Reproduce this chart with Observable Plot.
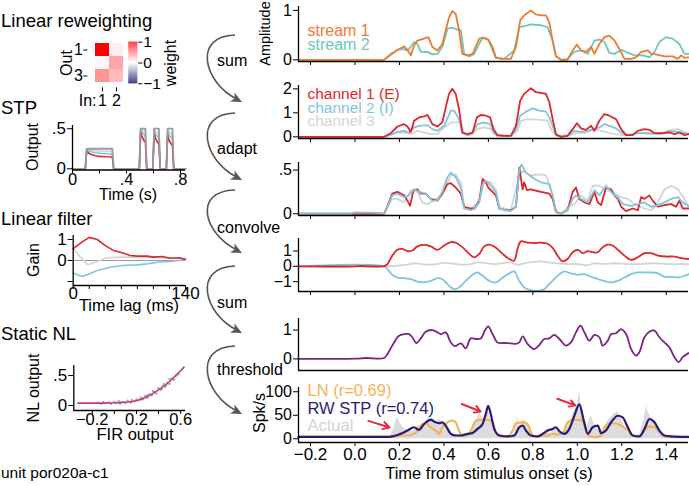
<!DOCTYPE html>
<html><head><meta charset="utf-8">
<script src="https://cdn.jsdelivr.net/npm/d3@7"></script>
<script src="https://cdn.jsdelivr.net/npm/@observablehq/plot@0.6"></script>
<style>
body{margin:0;background:#fff;}
#fig{position:relative;width:689px;height:486px;overflow:hidden;background:#fff;font-family:"Liberation Sans",Arial,sans-serif;}
#fig svg{position:absolute;overflow:visible;}
</style></head><body><div id="fig"></div>
<script>
// ---------------- DATA ----------------
const timeTicks = [-0.2, 0, 0.2, 0.4, 0.6, 0.8, 1.0, 1.2, 1.4];

// Linear reweighting (rows = Out 1..3, cols = In 1..2)
const rwIn = [1, 2];
const rwOut = [1, 2, 3];
const rwWeights = [[1.0, 0.07], [0.03, 0.35], [0.42, 0.27]];

// STP example (time s, output)
const stpInput = [[0,0],[0.095,0],[0.105,0.25],[0.295,0.25],[0.305,0],[0.495,0],[0.505,0.5],[0.54,0.5],[0.55,0],[0.595,0],[0.605,0.5],[0.64,0.5],[0.65,0],[0.695,0],[0.705,0.5],[0.74,0.5],[0.75,0],[0.837,0]];
const stpLight = [[0,0],[0.095,0],[0.105,0.245],[0.14,0.232],[0.2,0.222],[0.295,0.215],[0.305,0],[0.495,0],[0.505,0.5],[0.52,0.47],[0.54,0.45],[0.55,0],[0.595,0],[0.605,0.49],[0.62,0.46],[0.64,0.44],[0.65,0],[0.695,0],[0.705,0.48],[0.72,0.45],[0.74,0.43],[0.75,0],[0.837,0]];
const stpBlue = [[0,0],[0.095,0],[0.105,0.235],[0.13,0.215],[0.17,0.2],[0.22,0.19],[0.295,0.185],[0.305,0],[0.495,0],[0.505,0.49],[0.52,0.44],[0.54,0.41],[0.55,0],[0.595,0],[0.605,0.47],[0.62,0.42],[0.64,0.39],[0.65,0],[0.695,0],[0.705,0.46],[0.72,0.41],[0.74,0.38],[0.75,0],[0.837,0]];
const stpRed = [[0,0],[0.095,0],[0.105,0.22],[0.12,0.195],[0.14,0.178],[0.17,0.163],[0.2,0.155],[0.25,0.15],[0.295,0.148],[0.305,0],[0.495,0],[0.505,0.47],[0.515,0.4],[0.53,0.35],[0.54,0.33],[0.55,0],[0.595,0],[0.605,0.44],[0.615,0.38],[0.63,0.33],[0.64,0.31],[0.65,0],[0.695,0],[0.705,0.42],[0.715,0.36],[0.73,0.31],[0.74,0.29],[0.75,0],[0.837,0]];

// Linear filter (lag ms, gain)
const filterRed = [[0,0.56],[10,0.85],[20,1.1],[30,1.0],[40,0.71],[50,0.48],[61,0.37],[71,0.24],[80,0.21],[92,0.21],[100,0.16],[111,0.19],[121,0.11],[132,0.13],[140,0.05]];
const filterGray = [[0,0.56],[9,0.16],[18,-0.2],[30,-0.05],[42,0.13],[61,0.16],[80,0.16],[100,0.16],[121,0.11],[140,0.1]];
const filterBlue = [[0,-0.6],[11,-0.76],[20,-0.64],[30,-0.48],[46,-0.32],[61,-0.24],[80,-0.21],[92,-0.16],[105,-0.08],[121,-0.05],[140,0.05]];

// Static NL (FIR output, NL output)
const nlCurve = [[-0.33,0.04],[-0.2,0.04],[-0.1,0.04],[0,0.045],[0.1,0.055],[0.2,0.08],[0.3,0.15],[0.4,0.26],[0.5,0.4],[0.55,0.49],[0.6,0.58],[0.63,0.64]];
const nlPoints = [[-0.15,0.05],[-0.12,0.03],[-0.1,0.06],[-0.08,0.04],[-0.05,0.05],[-0.03,0.03],[0,0.06],[0.02,0.04],[0.04,0.07],[0.06,0.05],[0.08,0.06],[0.1,0.04],[0.12,0.08],[0.14,0.06],[0.16,0.09],[0.18,0.07],[0.2,0.1],[0.22,0.09],[0.24,0.13],[0.26,0.11],[0.28,0.16],[0.3,0.13],[0.32,0.19],[0.34,0.17],[0.36,0.22],[0.38,0.2],[0.4,0.29],[0.42,0.26],[0.44,0.33],[0.46,0.31],[0.48,0.38],[0.5,0.36],[0.52,0.45],[0.54,0.43],[0.56,0.5],[0.58,0.52],[0.35,0.24],[0.45,0.36],[0.25,0.1],[0.15,0.05],[0.05,0.03],[0.3,0.17],[0.43,0.28],[0.5,0.44],[0.47,0.34]];

// Panel 1: input streams (time s, amplitude)
const stream1 = [[-0.254,0],[0.131,0],[0.161,0.1],[0.191,0.2],[0.221,0.27],[0.236,0.2],[0.251,0.09],[0.266,0.29],[0.281,0.39],[0.311,0.43],[0.33,0.46],[0.348,0.26],[0.371,0.19],[0.393,0.32],[0.408,0.6],[0.423,0.86],[0.438,0.99],[0.453,0.93],[0.468,0.6],[0.483,0.12],[0.506,0.09],[0.529,0.12],[0.559,0.43],[0.574,0.45],[0.599,0.41],[0.619,0.26],[0.634,0.04],[0.671,0.02],[0.701,0.02],[0.724,0.26],[0.743,0.8],[0.761,0.9],[0.791,1.0],[0.814,0.92],[0.836,0.9],[0.859,0.9],[0.874,0.76],[0.889,0.39],[0.904,0.07],[0.926,0],[0.956,0],[0.979,0.19],[0.998,0.31],[1.017,0.19],[1.039,0.16],[1.062,0.26],[1.077,0.12],[1.099,0.32],[1.122,0.46],[1.144,0.49],[1.167,0.39],[1.189,0.22],[1.212,0.02],[1.242,0.02],[1.264,0.05],[1.287,0.16],[1.317,0.19],[1.332,0.12],[1.354,0.11],[1.392,0.07],[1.429,0.07],[1.452,0.02],[1.467,0.09],[1.482,0.04],[1.5,0.05]];
const stream2 = [[-0.254,0],[0.131,0],[0.161,0.12],[0.191,0.2],[0.213,0.22],[0.236,0.19],[0.251,0.26],[0.266,0.36],[0.281,0.32],[0.296,0.16],[0.326,0.16],[0.348,0.11],[0.371,0.12],[0.393,0.26],[0.416,0.63],[0.438,0.65],[0.461,0.61],[0.476,0.6],[0.491,0.12],[0.514,0.07],[0.536,0.12],[0.566,0.39],[0.581,0.45],[0.599,0.41],[0.619,0.19],[0.634,0.04],[0.671,0.02],[0.716,0.19],[0.739,0.66],[0.761,0.68],[0.791,0.72],[0.836,0.7],[0.866,0.66],[0.889,0.39],[0.904,0.07],[0.926,0],[0.956,0.02],[0.986,0.16],[1.017,0.19],[1.047,0.12],[1.077,0.39],[1.099,0.41],[1.122,0.36],[1.144,0.14],[1.167,0.12],[1.197,0.2],[1.219,0.16],[1.257,0.09],[1.294,0.09],[1.324,0.05],[1.347,0.16],[1.369,0.36],[1.399,0.46],[1.429,0.43],[1.459,0.32],[1.482,0.12],[1.5,0.12]];

// Panel 2: reweighted channels
const chan1 = [[-0.254,0],[0.131,0],[0.161,0.15],[0.191,0.43],[0.221,0.53],[0.236,0.43],[0.251,0.2],[0.266,0.67],[0.288,0.81],[0.311,0.85],[0.326,0.91],[0.348,0.53],[0.371,0.43],[0.393,0.6],[0.408,1.23],[0.423,1.79],[0.438,2.0],[0.453,1.79],[0.468,1.16],[0.483,0.18],[0.506,0.11],[0.529,0.18],[0.548,0.81],[0.566,0.91],[0.589,0.88],[0.608,0.81],[0.623,0.32],[0.641,0.07],[0.671,0.04],[0.701,0.04],[0.724,0.46],[0.743,1.51],[0.761,1.79],[0.791,2.03],[0.814,1.86],[0.836,1.83],[0.859,1.79],[0.874,1.44],[0.889,0.74],[0.904,0.11],[0.926,0],[0.956,0.04],[0.979,0.32],[0.998,0.57],[1.017,0.35],[1.039,0.29],[1.062,0.46],[1.077,0.25],[1.099,0.67],[1.122,0.95],[1.144,0.88],[1.174,0.74],[1.197,0.32],[1.219,0.07],[1.249,0.07],[1.272,0.25],[1.302,0.32],[1.324,0.29],[1.347,0.15],[1.377,0.15],[1.414,0.18],[1.437,0.11],[1.459,0.18],[1.482,0.07],[1.5,0.11]];
const chan2 = [[-0.254,0],[0.131,0],[0.161,0.1],[0.191,0.21],[0.221,0.25],[0.243,0.18],[0.266,0.39],[0.288,0.46],[0.326,0.49],[0.348,0.32],[0.371,0.25],[0.401,0.46],[0.431,1.09],[0.446,1.09],[0.468,0.74],[0.483,0.15],[0.506,0.07],[0.529,0.15],[0.551,0.53],[0.581,0.6],[0.608,0.53],[0.623,0.21],[0.641,0.04],[0.701,0.03],[0.724,0.29],[0.743,0.88],[0.769,1.05],[0.799,1.19],[0.829,1.09],[0.859,1.05],[0.874,0.81],[0.889,0.46],[0.904,0.07],[0.926,0],[0.956,0.04],[0.986,0.25],[1.017,0.21],[1.047,0.25],[1.077,0.32],[1.099,0.39],[1.122,0.53],[1.144,0.46],[1.174,0.35],[1.197,0.18],[1.227,0.07],[1.272,0.15],[1.324,0.15],[1.377,0.11],[1.414,0.25],[1.452,0.21],[1.482,0.15],[1.5,0.1]];
const chan3 = [[-0.254,0],[0.131,0],[0.161,0.07],[0.191,0.18],[0.221,0.18],[0.251,0.11],[0.281,0.25],[0.311,0.18],[0.341,0.11],[0.371,0.11],[0.401,0.39],[0.431,0.6],[0.476,0.6],[0.491,0.11],[0.521,0.07],[0.551,0.32],[0.581,0.39],[0.611,0.32],[0.626,0.11],[0.701,0.03],[0.731,0.25],[0.746,0.67],[0.776,0.74],[0.836,0.71],[0.866,0.67],[0.881,0.32],[0.904,0.04],[0.971,0.07],[1.002,0.18],[1.032,0.15],[1.077,0.32],[1.107,0.25],[1.137,0.18],[1.167,0.11],[1.212,0.07],[1.272,0.15],[1.332,0.11],[1.392,0.15],[1.422,0.29],[1.452,0.32],[1.482,0.18],[1.5,0.15]];

// Panel 3: after STP (adapt)
const adapt1 = [[-0.254,0],[0.131,0],[0.146,0.09],[0.168,0.23],[0.191,0.25],[0.221,0.21],[0.236,0.15],[0.248,0.09],[0.263,0.27],[0.281,0.28],[0.296,0.23],[0.318,0.23],[0.341,0.17],[0.371,0.15],[0.393,0.23],[0.416,0.34],[0.431,0.35],[0.453,0.3],[0.476,0.23],[0.491,0.08],[0.521,0.06],[0.539,0.06],[0.559,0.15],[0.574,0.4],[0.589,0.36],[0.599,0.3],[0.619,0.25],[0.634,0.21],[0.649,0.06],[0.679,0.04],[0.701,0.04],[0.724,0.08],[0.739,0.53],[0.754,0.28],[0.761,0.36],[0.773,0.27],[0.791,0.28],[0.836,0.25],[0.874,0.23],[0.889,0.17],[0.904,0.02],[0.926,0],[0.956,0.04],[0.979,0.25],[0.994,0.3],[1.009,0.17],[1.032,0.13],[1.054,0.11],[1.077,0.25],[1.092,0.13],[1.107,0.1],[1.129,0.3],[1.152,0.28],[1.167,0.21],[1.182,0.17],[1.197,0.08],[1.219,0.03],[1.249,0.06],[1.272,0.04],[1.287,0.19],[1.302,0.17],[1.324,0.21],[1.339,0.15],[1.362,0.08],[1.392,0.1],[1.422,0.11],[1.444,0.08],[1.459,0.15],[1.474,0.06],[1.5,0.06]];
const adapt2 = [[-0.254,0],[-0.02,0],[0.0,0.015],[0.1,0.01],[0.131,0],[0.168,0.21],[0.191,0.23],[0.221,0.19],[0.243,0.21],[0.266,0.28],[0.288,0.25],[0.318,0.23],[0.348,0.15],[0.371,0.15],[0.393,0.25],[0.416,0.42],[0.431,0.47],[0.453,0.42],[0.476,0.3],[0.491,0.06],[0.521,0.04],[0.539,0.06],[0.559,0.13],[0.574,0.34],[0.589,0.38],[0.611,0.32],[0.634,0.25],[0.649,0.06],[0.701,0.03],[0.724,0.08],[0.739,0.51],[0.749,0.56],[0.769,0.47],[0.806,0.4],[0.836,0.36],[0.874,0.34],[0.889,0.21],[0.904,0.02],[0.926,0],[0.956,0.04],[0.979,0.17],[0.994,0.21],[1.017,0.17],[1.047,0.13],[1.077,0.27],[1.099,0.21],[1.129,0.32],[1.159,0.23],[1.182,0.19],[1.204,0.11],[1.242,0.09],[1.272,0.11],[1.302,0.13],[1.332,0.08],[1.354,0.09],[1.392,0.13],[1.422,0.17],[1.452,0.19],[1.474,0.13],[1.5,0.09]];
const adapt3 = [[-0.254,0],[0.131,0],[0.168,0.17],[0.191,0.17],[0.221,0.13],[0.251,0.27],[0.281,0.25],[0.303,0.13],[0.326,0.11],[0.356,0.15],[0.393,0.23],[0.431,0.44],[0.453,0.45],[0.476,0.36],[0.491,0.08],[0.521,0.05],[0.559,0.15],[0.581,0.36],[0.611,0.36],[0.634,0.27],[0.649,0.08],[0.701,0.04],[0.739,0.44],[0.754,0.49],[0.791,0.44],[0.836,0.45],[0.859,0.44],[0.881,0.28],[0.904,0.04],[0.926,0],[0.964,0.09],[0.986,0.11],[1.017,0.21],[1.047,0.15],[1.069,0.32],[1.099,0.32],[1.129,0.28],[1.167,0.23],[1.197,0.19],[1.227,0.17],[1.257,0.11],[1.302,0.06],[1.332,0.04],[1.354,0.09],[1.392,0.28],[1.422,0.32],[1.452,0.28],[1.482,0.17],[1.5,0.08]];

// Panel 4: after convolution
const conv1 = [[-0.254,0],[0.0,0],[0.02,0.02],[0.131,0.02],[0.146,0.15],[0.168,0.7],[0.191,1.08],[0.213,1.14],[0.236,0.99],[0.258,1.03],[0.281,1.3],[0.311,1.41],[0.341,1.3],[0.371,1.08],[0.401,1.36],[0.431,1.58],[0.453,1.54],[0.483,1.25],[0.514,0.81],[0.536,0.59],[0.559,0.81],[0.581,1.3],[0.604,1.41],[0.634,1.21],[0.664,0.81],[0.694,0.48],[0.716,0.37],[0.731,1.14],[0.746,1.63],[0.776,1.54],[0.806,1.52],[0.836,1.54],[0.866,1.47],[0.889,1.21],[0.911,0.7],[0.934,0.33],[0.956,0.48],[0.979,0.92],[1.002,1.08],[1.024,0.86],[1.047,0.99],[1.069,0.92],[1.092,0.92],[1.114,1.25],[1.137,1.41],[1.159,1.36],[1.182,1.08],[1.212,0.7],[1.242,0.42],[1.272,0.59],[1.302,0.86],[1.332,0.86],[1.362,0.7],[1.399,0.64],[1.437,0.64],[1.467,0.53],[1.5,0.48]];
const conv2 = [[-0.254,0],[0.131,0],[0.146,-0.18],[0.168,-0.55],[0.191,-0.73],[0.221,-0.77],[0.251,-0.84],[0.281,-1.0],[0.311,-1.05],[0.341,-0.95],[0.371,-0.77],[0.393,-0.84],[0.423,-1.27],[0.446,-1.49],[0.468,-1.38],[0.498,-0.95],[0.529,-0.55],[0.551,-0.4],[0.574,-0.62],[0.604,-0.95],[0.634,-1.05],[0.664,-0.73],[0.694,-0.46],[0.716,-0.33],[0.739,-0.95],[0.761,-1.38],[0.791,-1.56],[0.821,-1.6],[0.851,-1.49],[0.881,-1.05],[0.911,-0.62],[0.941,-0.33],[0.971,-0.46],[1.002,-0.55],[1.032,-0.51],[1.062,-0.68],[1.092,-0.84],[1.122,-0.95],[1.152,-1.05],[1.182,-0.95],[1.212,-0.73],[1.242,-0.51],[1.272,-0.4],[1.302,-0.4],[1.332,-0.4],[1.362,-0.46],[1.392,-0.68],[1.422,-0.68],[1.452,-0.73],[1.482,-0.62],[1.5,-0.51]];
const conv3 = [[-0.254,0],[0.131,0],[0.191,0.04],[0.236,0.11],[0.266,0.2],[0.296,0.15],[0.341,0.11],[0.371,0.15],[0.401,0.22],[0.431,0.2],[0.476,0.11],[0.521,0.15],[0.551,0.26],[0.581,0.22],[0.626,0.15],[0.671,0.22],[0.701,0.26],[0.731,0.09],[0.761,0.2],[0.806,0.29],[0.836,0.33],[0.866,0.26],[0.911,0.2],[0.956,0.15],[1.002,0.15],[1.047,0.07],[1.077,0.2],[1.122,0.15],[1.167,0.2],[1.227,0.15],[1.287,0.15],[1.347,0.2],[1.407,0.15],[1.467,0.15],[1.5,0.15]];

// Panel 5: summed
const summed = [[-0.254,0],[0.0,0.01],[0.05,0.03],[0.131,0.03],[0.146,0.17],[0.176,0.57],[0.198,0.8],[0.221,0.86],[0.243,0.86],[0.258,0.75],[0.276,0.55],[0.296,0.71],[0.318,0.94],[0.348,1.0],[0.371,0.92],[0.386,0.86],[0.408,0.92],[0.431,0.57],[0.449,0.44],[0.476,0.54],[0.498,0.37],[0.521,0.71],[0.544,0.69],[0.566,0.71],[0.584,0.98],[0.599,1.13],[0.619,0.86],[0.641,0.57],[0.671,0.55],[0.701,0.54],[0.724,0.52],[0.739,0.57],[0.754,0.78],[0.776,0.52],[0.806,0.34],[0.829,0.48],[0.851,0.69],[0.874,0.71],[0.896,0.83],[0.919,0.69],[0.949,0.46],[0.971,0.57],[0.994,0.92],[1.014,1.15],[1.032,0.92],[1.054,0.63],[1.077,0.83],[1.099,0.75],[1.114,0.46],[1.137,0.63],[1.152,0.86],[1.174,0.89],[1.197,1.03],[1.219,0.86],[1.242,0.34],[1.264,0.11],[1.279,0.23],[1.302,0.75],[1.324,0.94],[1.347,0.98],[1.369,0.75],[1.392,0.57],[1.414,0.4],[1.437,0.06],[1.456,-0.11],[1.474,0.06],[1.5,0.2]];

// Panel 6: spike rate (spk/s)
const actualRate = [[-0.254,0],[0.14,0],[0.16,5],[0.18,30],[0.19,48],[0.2,35],[0.22,22],[0.24,18],[0.26,15],[0.28,25],[0.3,30],[0.32,38],[0.34,50],[0.36,32],[0.38,42],[0.4,30],[0.42,18],[0.44,10],[0.46,8],[0.48,12],[0.5,5],[0.52,15],[0.54,30],[0.56,55],[0.58,42],[0.6,58],[0.62,20],[0.64,8],[0.66,10],[0.68,5],[0.7,5],[0.72,12],[0.73,48],[0.74,22],[0.76,42],[0.78,28],[0.8,10],[0.82,5],[0.84,8],[0.86,15],[0.88,10],[0.9,22],[0.92,12],[0.94,8],[0.96,30],[0.98,52],[1.0,75],[1.01,102],[1.02,60],[1.04,20],[1.06,50],[1.08,28],[1.1,15],[1.12,20],[1.14,40],[1.16,50],[1.18,58],[1.2,42],[1.22,15],[1.24,8],[1.26,5],[1.28,10],[1.3,40],[1.31,70],[1.32,55],[1.34,38],[1.36,20],[1.38,10],[1.4,5],[1.42,6],[1.44,4],[1.46,2],[1.5,0]];
const lnRate = [[-0.254,4],[0.17,4],[0.206,7],[0.236,7],[0.266,10.5],[0.288,21],[0.303,31.5],[0.318,33],[0.341,24.5],[0.363,17.5],[0.378,10.5],[0.393,24.5],[0.416,35],[0.438,38.5],[0.453,35],[0.468,17.5],[0.483,7],[0.506,7],[0.528,24.5],[0.543,38.5],[0.574,40],[0.599,40],[0.619,35],[0.634,14],[0.656,5],[0.686,5],[0.709,17.5],[0.724,33],[0.754,35],[0.776,31.5],[0.799,7],[0.821,5],[0.844,7],[0.866,7],[0.889,10.5],[0.911,9],[0.926,10.5],[0.941,17.5],[0.956,35],[0.979,40],[1.001,40],[1.024,38.5],[1.039,17.5],[1.054,5],[1.084,3.5],[1.107,7],[1.122,24.5],[1.144,33],[1.167,33],[1.189,30],[1.204,26],[1.227,17.5],[1.249,7],[1.279,5],[1.302,17.5],[1.324,26],[1.347,24.5],[1.369,14],[1.399,3.5],[1.5,3.5]];
const rwstpRate = [[-0.254,4],[0.15,4],[0.17,5],[0.19,8],[0.206,10.5],[0.236,17.5],[0.266,24.5],[0.288,19],[0.311,31.5],[0.341,40],[0.363,35],[0.378,33],[0.393,35],[0.408,28],[0.431,10.5],[0.453,7],[0.476,7],[0.506,10.5],[0.528,12],[0.551,21],[0.574,31.5],[0.589,54],[0.599,70],[0.611,52],[0.626,21],[0.649,7],[0.686,5],[0.716,7],[0.739,24.5],[0.754,28],[0.769,17.5],[0.791,7],[0.821,5],[0.844,10.5],[0.866,17.5],[0.889,21],[0.904,24.5],[0.919,16],[0.941,10.5],[0.964,21],[0.986,48],[1.009,73],[1.029,38.5],[1.047,10.5],[1.069,24.5],[1.092,28],[1.107,12],[1.129,17.5],[1.152,35],[1.182,49],[1.204,45.5],[1.227,24.5],[1.249,7],[1.279,5],[1.302,21],[1.324,42],[1.347,35],[1.369,17.5],[1.392,7],[1.422,5],[1.5,4]];
// red annotation arrows [t1, rate1, t2, rate2]
const redArrows = [[0.06, 38, 0.155, 24], [0.48, 74, 0.565, 58], [0.91, 85, 0.99, 71]];

// ---------------- RENDER ----------------
const fig = document.getElementById("fig");
const FONT = '"Liberation Sans", Arial, Helvetica, sans-serif';
const X = d => d[0], Y = d => d[1];

function place(box, spec) {
  const {left, top, width, height, fl, fr, ft, fb} = box;
  const p = Plot.plot({
    width, height,
    marginLeft: fl - left, marginRight: left + width - fr,
    marginTop: ft - top, marginBottom: top + height - fb,
    style: {fontFamily: FONT, fontSize: "16px", color: "#000", background: "transparent", overflow: "visible"},
    ...spec
  });
  p.style.position = "absolute"; p.style.left = left + "px"; p.style.top = top + "px";
  fig.appendChild(p);
  return p;
}
const fmtDot = d => d === 0 ? "0" : (Math.abs(d) < 1 ? String(d).replace("0.", ".") : String(d));
const fmtInt = d => d < 0 ? "\u2212" + Math.abs(d) : String(d);
const fmtTick = d => (Math.abs(d) < 1 && d !== 0) ? fmtDot(d) : fmtInt(d);
const spines = (xd, yd) => [
  Plot.ruleX([xd[0]], {stroke: "#000", strokeWidth: 1.3}),
  Plot.ruleY([yd[0]], {stroke: "#000", strokeWidth: 1.3})
];
const legendText = (s, color, dx, dy, size = 16.5) =>
  Plot.text([s], {frameAnchor: "top-left", dx, dy, text: d => d, fill: color, fontSize: size, textAnchor: "start", lineAnchor: "bottom"});

// ---- Right column panels ----
const XD = [-0.254, 1.5];
function rightPanel(ft, fb, yd, yticks, marks, opt = {}) {
  const mb = opt.mb ?? 10;
  return place({left: 250, top: ft - 12, width: 439, height: fb - ft + 12 + mb, fl: 298, fr: 688, ft, fb}, {
    x: {domain: XD, axis: null},
    y: {domain: yd, axis: null},
    marks: [
      ...marks,
      ...spines(XD, yd),
      Plot.axisY({ticks: yticks, tickFormat: fmtTick, tickSize: 5, tickPadding: 1.5, fontSize: 16, label: null}),
      opt.noXTicks ? null : Plot.axisX({ticks: timeTicks, tickSize: 4, tickPadding: 1,
        tickFormat: opt.xLabels ? d3.format(".1f") : () => "", fontSize: 17, label: null})
    ]
  });
}
const lineOpts = (stroke, w = 1.8, curve = "linear") => ({x: X, y: Y, stroke, strokeWidth: w, curve, strokeLinejoin: "round"});

// Panel 1
rightPanel(6, 61, [-0.034, 1.08], [0, 1], [
  Plot.line(stream2, lineOpts("#6fc6ba")),
  Plot.line(stream1, lineOpts("#ee7b2f")),
  legendText("stream 1", "#ee7b2f", 9, 29, 16),
  legendText("stream 2", "#6fc6ba", 9, 43.5, 16)
]);
// Panel 2
rightPanel(85, 138, [-0.07, 2.14], [0, 1, 2], [
  Plot.line(chan3, lineOpts("#d4d4d4")),
  Plot.line(chan2, lineOpts("#7fc6dc")),
  Plot.line(chan1, lineOpts("#e0262b")),
  legendText("channel 1 (E)", "#e0262b", 9, 13.5, 15.5),
  legendText("channel 2 (I)", "#7fc6dc", 9, 27, 15.5),
  legendText("channel 3", "#d4d4d4", 9, 40.5, 15.5)
]);
// Panel 3
rightPanel(162, 215, [-0.02, 0.586], [0, 0.5], [
  Plot.line(adapt3, lineOpts("#d4d4d4")),
  Plot.line(adapt1, lineOpts("#e0262b")),
  Plot.line(adapt2, lineOpts("#7fc6dc"))
]);
// Panel 4
rightPanel(238, 291, [-1.64, 1.815], [-1, 0, 1], [
  Plot.line(conv3, lineOpts("#d4d4d4", 1.8, "catmull-rom")),
  Plot.line(conv2, lineOpts("#7fc6dc", 1.8, "catmull-rom")),
  Plot.line(conv1, lineOpts("#e0262b", 1.8, "catmull-rom"))
]);
// Panel 5
rightPanel(318, 370, [-0.403, 1.4], [0, 1], [
  Plot.line(summed, lineOpts("#7b2382", 1.8, "catmull-rom"))
], {noXTicks: true, mb: 4});
// Panel 6
rightPanel(387, 442, [-7.9, 109], [0, 50, 100], [
  Plot.areaY(actualRate, {x: X, y: Y, fill: "#dcdcdc"}),
  Plot.line(lnRate, lineOpts("#f5b452", 2.2, "monotone-x")),
  Plot.line(rwstpRate, lineOpts("#2b1a7a", 2.2, "monotone-x")),
  Plot.arrow(redArrows, {x1: d => d[0], y1: d => d[1], x2: d => d[2], y2: d => d[3], stroke: "#e8283e", strokeWidth: 2, headLength: 8}),
  legendText("LN (r=0.69)", "#f5b452", 9, 8),
  legendText("RW STP (r=0.74)", "#2b1a7a", 9, 26),
  legendText("Actual", "#d4d4d4", 9, 43)
], {xLabels: true, mb: 44});

// ---- Left column ----
// Heatmap
const rwTable = rwOut.flatMap((o, i) => rwIn.map((n, j) => ({out: o, in: n, w: rwWeights[i][j]})));
const colorScale = {type: "linear", domain: [-1, 0, 1], range: ["#00005e", "#ffffff", "#ff0000"], interpolate: "rgb"};
place({left: 40, top: 30, width: 110, height: 85, fl: 94.3, fr: 123.3, ft: 41.7, fb: 83.3}, {
  x: {type: "band", domain: rwIn, padding: 0, axis: null},
  y: {type: "band", domain: rwOut, padding: 0, axis: null},
  color: colorScale,
  marks: [
    Plot.cell(rwTable, {x: "in", y: "out", fill: "w"}),
    Plot.axisX({tickSize: 4, tickPadding: 3, dy: 4, fontSize: 16, label: null}),
    Plot.axisY({ticks: [1, 3], tickSize: 4, tickPadding: 1, dx: -7, fontSize: 16, label: null})
  ]
});
// Colorbar
const ramp = d3.range(-1, 1, 0.02);
place({left: 120, top: 30, width: 60, height: 70, fl: 128.3, fr: 137.3, ft: 41.7, fb: 83.3}, {
  x: {domain: [0, 1], axis: null},
  y: {domain: [-1, 1], axis: null},
  color: colorScale,
  marks: [
    Plot.rect(ramp, {x1: 0, x2: 1, y1: d => d, y2: d => d + 0.021, fill: d => d + 0.01}),
    Plot.axisY({anchor: "right", ticks: [-1, 0, 1], tickFormat: fmtInt, tickSize: 4, tickPadding: 1.5, fontSize: 15.5, label: null})
  ]
});
// STP
const stpXD = [0, 0.837], stpYD = [-0.015, 0.54];
place({left: 30, top: 115, width: 170, height: 75, fl: 72, fr: 185, ft: 125, fb: 169.5}, {
  x: {domain: stpXD, axis: null},
  y: {domain: stpYD, axis: null},
  marks: [
    Plot.line(stpLight, lineOpts("#bcd9e6", 1.6)),
    Plot.line(stpBlue, lineOpts("#7fc6dc", 1.6)),
    Plot.line(stpRed, lineOpts("#e0262b", 1.6)),
    Plot.line(stpInput, lineOpts("#9a9a9a", 1.8)),
    ...spines(stpXD, stpYD),
    Plot.axisY({ticks: [0, 0.5], tickFormat: fmtDot, tickSize: 5, tickPadding: 1.5, fontSize: 17, label: null}),
    Plot.axisX({ticks: [0, 0.2, 0.4, 0.6, 0.8], tickFormat: d => (d === 0 ? "0" : d === 0.4 || d === 0.8 ? fmtDot(d) : ""), tickSize: 4, tickPadding: -0.5, fontSize: 16.5, label: null})
  ]
});
// Linear filter
const fXD = [0, 140], fYD = [-1.19, 1.19];
place({left: 30, top: 225, width: 180, height: 75, fl: 72.7, fr: 185, ft: 235, fb: 285}, {
  x: {domain: fXD, axis: null},
  y: {domain: fYD, axis: null},
  marks: [
    Plot.ruleY([0], {stroke: "#999", strokeWidth: 1}),
    Plot.line(filterGray, lineOpts("#d4d4d4", 1.6)),
    Plot.line(filterBlue, lineOpts("#7fc6dc", 1.6)),
    Plot.line(filterRed, lineOpts("#e0262b", 1.6)),
    ...spines(fXD, fYD),
    Plot.axisY({ticks: [-1, 0, 1], tickFormat: d => (d === -1 ? "" : String(d)), tickSize: 5, tickPadding: 1.5, fontSize: 17, label: null}),
    Plot.axisX({ticks: d3.range(0, 141, 20), tickFormat: d => (d === 0 || d === 140 ? String(d) : ""), tickSize: 4, tickPadding: -3, fontSize: 17, label: null})
  ]
});
// Static NL
const nXD = [-0.367, 0.644], nYD = [-0.083, 0.667];
place({left: 30, top: 355, width: 180, height: 80, fl: 73.3, fr: 185, ft: 365, fb: 410}, {
  x: {domain: nXD, axis: null},
  y: {domain: nYD, axis: null},
  marks: [
    Plot.dot(nlPoints, {x: X, y: Y, r: 1.2, fill: "#a8a8a8"}),
    Plot.line(nlCurve, lineOpts("#c23d87", 1.6, "monotone-x")),
    ...spines(nXD, nYD),
    Plot.axisY({ticks: [0, 0.5], tickFormat: fmtDot, tickSize: 5, tickPadding: 1.5, fontSize: 17, label: null}),
    Plot.axisX({ticks: [-0.2, 0, 0.2, 0.4, 0.6], tickFormat: d => (d === 0 || d === 0.4 ? "" : d3.format(".1f")(d)), tickSize: 4, tickPadding: -1.5, fontSize: 16.5, label: null})
  ]
});

// ---- Overlay: titles, axis titles, flow arrows ----
const ov = d3.select(fig).append("svg").attr("width", 689).attr("height", 486)
  .style("left", "0px").style("top", "0px").style("pointer-events", "none")
  .style("font-family", FONT);
function txt(s, x, y, o = {}) {
  const t = ov.append("text").text(s).attr("font-size", o.size || 16).attr("fill", o.fill || "#000")
    .attr("text-anchor", o.anchor || "start");
  if (o.rotate) t.attr("transform", `translate(${x},${y}) rotate(-90)`).attr("dy", "0.35em").attr("text-anchor", "middle");
  else t.attr("x", x).attr("y", y);
  return t;
}
txt("Linear reweighting", 1, 27, {size: 18.5});
txt("STP", 1, 114, {size: 18.5});
txt("Linear filter", 1, 225, {size: 18.5});
txt("Static NL", 1, 340, {size: 18.5});
txt("unit por020a-c1", 1, 478, {size: 15.5});
txt("Out", 66, 63, {rotate: true, size: 16});
txt("In:", 96.5, 106, {size: 16, anchor: "end"});
txt("weight", 170, 63, {rotate: true, size: 16});
txt("Output", 32, 147, {rotate: true, size: 16});
txt("Time (s)", 128, 200, {size: 16, anchor: "middle"});
txt("Gain", 33, 260, {rotate: true, size: 16});
txt("Time lag (ms)", 129, 311, {size: 16.5, anchor: "middle"});
txt("NL output", 33, 388, {rotate: true, size: 16});
txt("FIR output", 135, 440, {size: 16.5, anchor: "middle"});
txt("Amplitude", 265, 33.5, {rotate: true, size: 14.5});
txt("Spk/s", 259, 413, {rotate: true, size: 16});
txt("Time from stimulus onset (s)", 489, 479, {size: 16.5, anchor: "middle"});

const flow = [["sum", 35, 100, 66], ["adapt", 113, 178, 154], ["convolve", 190, 251, 233], ["sum", 266, 331, 308], ["threshold", 346, 412, 375]];
flow.forEach(([label, top, tip, base]) => {
  const sx = 235, ex = 238, ey = tip;
  ov.append("path")
    .attr("d", `M${sx},${top} C192,${top + 1} 204,${ey - 17} ${ex - 1},${ey - 1}`)
    .attr("fill", "none").attr("stroke", "#555").attr("stroke-width", 1.6);
  const ang = Math.atan2(16, 32);
  const tx = ex + 4, ty = ey + 2, L = 11, W = 5;
  const bx = tx - L * Math.cos(ang), by = ty - L * Math.sin(ang);
  const nx = -Math.sin(ang) * W, ny = Math.cos(ang) * W;
  ov.append("path").attr("d", `M${tx},${ty} L${bx + nx},${by + ny} L${bx + 3 * Math.cos(ang)},${by + 3 * Math.sin(ang)} L${bx - nx},${by - ny} Z`).attr("fill", "#555");
  txt(label, 217, base, {size: 16});
});
</script></body></html>
